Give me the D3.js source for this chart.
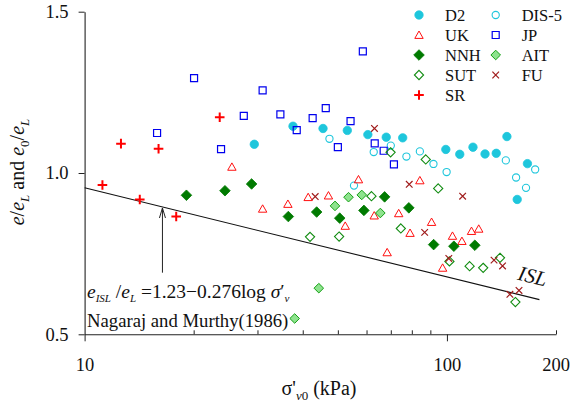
<!DOCTYPE html>
<html>
<head>
<meta charset="utf-8">
<script src="https://cdn.jsdelivr.net/npm/d3@7"></script>
<style>
  html, body { margin: 0; padding: 0; background: #fff; }
  svg { display: block; }
  text { font-family: "Liberation Serif", "Times New Roman", serif; fill: #111; }
</style>
</head>
<body>
<svg id="chart" width="574" height="414"></svg>
<script>
// ---------------- data ----------------
const xTickLabels = [10, 100, 200];
const xMinorTicks = [20, 30, 40, 50, 60, 70, 80, 90, 200];
const yTickLabels = [0.5, 1.0, 1.5];

const d2X = [37.6, 29.4, 45.5, 53.1, 60.5, 68.0, 75.5, 99.3, 108.5, 118, 127.4, 136.8, 146.4, 156.3, 166.8];
const d2Y = [1.145, 1.089, 1.138, 1.132, 1.119, 1.111, 1.109, 1.073, 1.058, 1.080, 1.059, 1.061, 1.113, 0.918, 1.029];

const dis5X = [47.4, 55.4, 62.8, 70.0, 77.3, 84.2, 91.8, 99.8, 145.4, 155.2, 165.3, 175.2];
const dis5Y = [1.106, 0.961, 1.065, 1.085, 1.051, 1.067, 1.028, 1.003, 1.039, 0.986, 0.954, 1.011];

const ukX = [25.5, 31.0, 36.4, 41.4, 47.1, 52.4, 57.0, 63.0, 68.4, 73.6, 79.1, 84.2, 90.7, 97.3, 103.6, 110.0, 116.9, 122.4];
const ukY = [1.019, 0.889, 0.904, 0.925, 0.930, 0.836, 0.980, 0.868, 0.754, 0.875, 0.814, 0.977, 0.848, 0.706, 0.805, 0.789, 0.820, 0.827];

const jpX = [15.85, 20.05, 23.8, 27.5, 31.0, 34.7, 38.5, 42.6, 46.3, 50.0, 54.2, 58.6, 63.2, 66.9, 71.4];
const jpY = [1.124, 1.294, 1.074, 1.177, 1.256, 1.182, 1.133, 1.170, 1.201, 1.080, 1.161, 1.377, 1.092, 1.069, 1.027];

const nnhX = [19.1, 24.4, 28.9, 36.5, 43.7, 50.6, 59.0, 67.3, 78.5, 91.9, 104.5, 119.4];
const nnhY = [0.931, 0.945, 0.966, 0.865, 0.879, 0.860, 0.884, 0.926, 0.892, 0.778, 0.773, 0.776];

const aitX = [49.1, 53.5, 58.2, 65.5, 44.3, 38.0];
const aitY = [0.898, 0.925, 0.932, 0.876, 0.643, 0.549];

const sutX = [41.9, 50.4, 61.9, 69.9, 74.6, 87.4, 94.6, 101.6, 115.5, 125.9, 140.1, 154.5];
const sutY = [0.802, 0.803, 0.928, 1.064, 0.828, 1.042, 0.952, 0.726, 0.711, 0.706, 0.737, 0.600];

const fuX = [43.3, 63.1, 78.7, 86.8, 101.2, 110.5, 134.9, 142.4, 149.2, 158.1];
const fuY = [0.927, 1.138, 0.965, 0.816, 0.735, 0.928, 0.730, 0.712, 0.624, 0.636];

const srX = [11.2, 12.6, 14.2, 16.0, 17.9, 23.6];
const srY = [0.963, 1.091, 0.918, 1.075, 0.865, 1.173];

// ISL line: e/eL = 1.23 - 0.276 log(sigma)
const islA = 1.23, islB = 0.276;
const islRange = [10, 180];
const arrowSigma = 16.4, arrowBottom = 0.691;

// ---------------- chart ----------------
const svg = d3.select("#chart");
const x = d3.scaleLog().domain([10, 200]).range([84.6, 556]);
const y = d3.scaleLinear().domain([0.5, 1.5]).range([334.3, 11.7]);

// custom symbol types
const symCircle = { draw(c, s) { const r = s; c.moveTo(r, 0); c.arc(0, 0, r, 0, 2 * Math.PI); } };
const symSquare = { draw(c, s) { c.rect(-s, -s, 2 * s, 2 * s); } };
const symTriangle = { draw(c, s) { const h = s * 0.95; c.moveTo(0, -h); c.lineTo(s, h * 0.85); c.lineTo(-s, h * 0.85); c.closePath(); } };
const symDiamond = { draw(c, s) { c.moveTo(0, -s); c.lineTo(s, 0); c.lineTo(0, s); c.lineTo(-s, 0); c.closePath(); } };
const symPlus = { draw(c, s) { c.moveTo(-s, 0); c.lineTo(s, 0); c.moveTo(0, -s); c.lineTo(0, s); } };
const symX = { draw(c, s) { c.moveTo(-s, -s); c.lineTo(s, s); c.moveTo(-s, s); c.lineTo(s, -s); } };

const series = [
  { name: "D2", xs: d2X, ys: d2Y, type: symCircle, size: 4.2, fill: "#1ec6dc", stroke: "#1ec6dc", sw: 0.8 },
  { name: "DIS-5", xs: dis5X, ys: dis5Y, type: symCircle, size: 3.6, fill: "none", stroke: "#1ec6dc", sw: 1.1 },
  { name: "UK", xs: ukX, ys: ukY, type: symTriangle, size: 4.2, fill: "none", stroke: "#ff1010", sw: 1 },
  { name: "JP", xs: jpX, ys: jpY, type: symSquare, size: 3.5, fill: "none", stroke: "#0000ee", sw: 1.2 },
  { name: "NNH", xs: nnhX, ys: nnhY, type: symDiamond, size: 5.3, fill: "#007a00", stroke: "#007a00", sw: 0.8 },
  { name: "AIT", xs: aitX, ys: aitY, type: symDiamond, size: 4.8, fill: "#8ee38e", stroke: "#16a016", sw: 1 },
  { name: "SUT", xs: sutX, ys: sutY, type: symDiamond, size: 4.6, fill: "none", stroke: "#118c11", sw: 1.1 },
  { name: "FU", xs: fuX, ys: fuY, type: symX, size: 3.3, fill: "none", stroke: "#a01c1c", sw: 1.2 },
  { name: "SR", xs: srX, ys: srY, type: symPlus, size: 4.8, fill: "none", stroke: "#ff0000", sw: 2 }
];

function sym(s) {
  return d3.symbol().type(s.type).size(s.size)();
}

// axes
const axisColor = "#222";
const gx = svg.append("g").attr("transform", `translate(0,${y(0.5)})`);
gx.call(d3.axisBottom(x).tickValues([10, 100]).tickSize(7).tickSizeOuter(0).tickPadding(17).tickFormat(d3.format("d")));
const gxm = svg.append("g").attr("transform", `translate(0,${y(0.5)})`);
gxm.call(d3.axisBottom(x).tickValues(xMinorTicks).tickSize(-4).tickSizeOuter(0).tickFormat(""));
gxm.select(".domain").remove();

const gy = svg.append("g").attr("transform", `translate(${x(10)},0)`);
gy.call(d3.axisLeft(y).tickValues(yTickLabels).tickSize(6).tickSizeOuter(0).tickPadding(10).tickFormat(d3.format(".1f")));

[gx, gxm, gy].forEach(g => {
  g.selectAll(".domain").attr("stroke", axisColor).attr("stroke-width", 1.1);
  g.selectAll(".tick line").attr("stroke", axisColor).attr("stroke-width", 1);
  g.selectAll(".tick text").attr("font-family", "Liberation Serif, serif").attr("font-size", 18.5).attr("fill", "#111");
});
gx.selectAll(".tick text").attr("text-anchor", "middle");
// 200 label
gx.append("text").attr("x", x(200)).attr("y", 17 + 7).attr("dy", "0.71em")
  .attr("text-anchor", "middle").attr("font-size", 18.5).attr("fill", "#111")
  .attr("font-family", "Liberation Serif, serif").text(xTickLabels[2]);

// ISL line
const isl = d3.line().x(d => x(d)).y(d => y(islA - islB * Math.log10(d)));
svg.append("path").datum(islRange).attr("d", isl)
  .attr("fill", "none").attr("stroke", "#111").attr("stroke-width", 1.1);

// arrow
const ax = x(arrowSigma), ayTop = y(islA - islB * Math.log10(arrowSigma)), ayBot = y(arrowBottom);
svg.append("line").attr("x1", ax).attr("x2", ax).attr("y1", ayBot).attr("y2", ayTop + 1)
  .attr("stroke", "#222").attr("stroke-width", 1);
svg.append("path").attr("d", `M${ax - 3},${ayTop + 11} L${ax},${ayTop + 1} L${ax + 3},${ayTop + 11}`)
  .attr("fill", "none").attr("stroke", "#222").attr("stroke-width", 1);

// points
series.forEach(s => {
  const pts = s.xs.map((v, i) => [v, s.ys[i]]);
  svg.append("g").selectAll("path").data(pts).join("path")
    .attr("transform", d => `translate(${x(d[0])},${y(d[1])})`)
    .attr("d", sym(s))
    .attr("fill", s.fill).attr("stroke", s.stroke).attr("stroke-width", s.sw);
});

// legend
const legCols = [419, 495.7];
const legRows = [15, 35, 55, 75, 95];
const legOrder = ["D2", "DIS-5", "UK", "JP", "NNH", "AIT", "SUT", "FU", "SR"];
legOrder.forEach((name, i) => {
  const s = series.find(t => t.name === name);
  const cx = legCols[i % 2], cy = legRows[Math.floor(i / 2)];
  svg.append("path").attr("transform", `translate(${cx},${cy})`).attr("d", sym(s))
    .attr("fill", s.fill).attr("stroke", s.stroke).attr("stroke-width", s.sw);
  svg.append("text").attr("x", cx + 26).attr("y", cy).attr("dy", "0.35em")
    .attr("font-size", 16.5).text(name);
});

// y-axis title
const yt = svg.append("text").attr("transform", "translate(24,172) rotate(-90)")
  .attr("text-anchor", "middle").attr("font-size", 20);
yt.append("tspan").attr("font-style", "italic").text("e");
yt.append("tspan").text("/");
yt.append("tspan").attr("font-style", "italic").text("e");
yt.append("tspan").attr("font-style", "italic").attr("font-size", 13).attr("dy", 5).text("L");
yt.append("tspan").attr("dy", -5).text(" and ");
yt.append("tspan").attr("font-style", "italic").text("e");
yt.append("tspan").attr("font-size", 13).attr("dy", 5).text("0");
yt.append("tspan").attr("dy", -5).text("/");
yt.append("tspan").attr("font-style", "italic").text("e");
yt.append("tspan").attr("font-style", "italic").attr("font-size", 13).attr("dy", 5).text("L");

// x-axis title
const xt = svg.append("text").attr("x", 319).attr("y", 395).attr("text-anchor", "middle").attr("font-size", 20);
xt.append("tspan").text("σ'");
xt.append("tspan").attr("font-style", "italic").attr("font-size", 13).attr("dy", 5).text("v");
xt.append("tspan").attr("font-size", 13).text("0");
xt.append("tspan").attr("dy", -5).text(" (kPa)");

// formula
const ft = svg.append("text").attr("x", 87).attr("y", 298).attr("font-size", 19.5);
ft.append("tspan").attr("font-style", "italic").text("e");
ft.append("tspan").attr("font-style", "italic").attr("font-size", 11).attr("dy", 4).text("ISL");
ft.append("tspan").attr("dy", -4).text(" /");
ft.append("tspan").attr("font-style", "italic").text("e");
ft.append("tspan").attr("font-style", "italic").attr("font-size", 11).attr("dy", 4).text("L");
ft.append("tspan").attr("dy", -4).text(" =1.23−0.276log ");
ft.append("tspan").attr("font-style", "italic").text("σ");
ft.append("tspan").text("′");
ft.append("tspan").attr("font-style", "italic").attr("font-size", 11).attr("dy", 4).text("v");

svg.append("text").attr("x", 87).attr("y", 327).attr("font-size", 18.7).text("Nagaraj and Murthy(1986)");

// ISL label
svg.append("text").attr("transform", "translate(531,283) rotate(14)")
  .attr("text-anchor", "middle").attr("font-size", 21).attr("font-style", "italic").text("ISL");
</script>
</body>
</html>
